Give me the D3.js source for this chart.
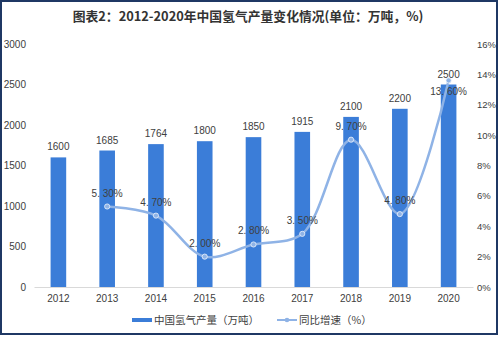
<!DOCTYPE html>
<html>
<head>
<meta charset="utf-8">
<script src="https://cdn.jsdelivr.net/npm/d3@7"></script>
<style>
  html, body { margin: 0; padding: 0; background: #fff; }
  svg { display: block; font-family: "Noto Sans CJK SC", "Liberation Sans", sans-serif; }
</style>
</head>
<body>
<svg id="chart" width="499" height="337"></svg>
<script>
const years = ["2012", "2013", "2014", "2015", "2016", "2017", "2018", "2019", "2020"];
const output = [1600, 1685, 1764, 1800, 1850, 1915, 2100, 2200, 2500];
const growthYears = ["2013", "2014", "2015", "2016", "2017", "2018", "2019", "2020"];
const growth = [5.3, 4.7, 2.0, 2.8, 3.5, 9.7, 4.8, 13.6];
const leftTicks = [0, 500, 1000, 1500, 2000, 2500, 3000];
const rightTicks = [0, 2, 4, 6, 8, 10, 12, 14, 16];

const title = "图表2：2012-2020年中国氢气产量变化情况(单位：万吨，%)";
const barName = "中国氢气产量（万吨）";
const lineName = "同比增速（%）";

const barColor = "#3b7dd8";
const lineColor = "#8fb3e6";
const textColor = "#404040";

const svg = d3.select("#chart");

// outer frame
svg.append("rect")
  .attr("x", 1).attr("y", 1).attr("width", 496).attr("height", 333)
  .attr("fill", "none").attr("stroke", "#1f3864").attr("stroke-width", 2);

svg.append("text")
  .attr("x", 248).attr("y", 21)
  .attr("text-anchor", "middle")
  .attr("font-size", 12.8).attr("font-weight", "bold")
  .attr("fill", "#333")
  .text(title);

const x = d3.scaleBand().domain(years).range([34, 473]).paddingInner(0.68).paddingOuter(0.34);
const yL = d3.scaleLinear().domain([0, 3000]).range([287, 44]);
const yR = d3.scaleLinear().domain([0, 16]).range([287, 44]);
const cx = d => x(d) + x.bandwidth() / 2;

// left axis labels
svg.append("g")
  .attr("transform", "translate(26,0)")
  .call(d3.axisLeft(yL).tickValues(leftTicks).tickSize(0).tickPadding(0).tickFormat(d3.format("d")))
  .call(g => g.select(".domain").remove())
  .call(g => g.selectAll("text").attr("fill", textColor).attr("font-size", 10).attr("font-family", "Liberation Sans, sans-serif"));

// right axis labels
svg.append("g")
  .attr("transform", "translate(477,0)")
  .call(d3.axisRight(yR).tickValues(rightTicks).tickSize(0).tickPadding(0).tickFormat(d => d + "%"))
  .call(g => g.select(".domain").remove())
  .call(g => g.selectAll("text").attr("fill", textColor).attr("font-size", 9.5).attr("font-family", "Liberation Sans, sans-serif"));

// x axis
svg.append("g")
  .attr("transform", "translate(0,287)")
  .call(d3.axisBottom(x).tickSize(0).tickPadding(8))
  .call(g => g.select(".domain").attr("stroke", "#d9d9d9"))
  .call(g => g.selectAll("text").attr("fill", textColor).attr("font-size", 10).attr("font-family", "Liberation Sans, sans-serif"));

// bars
svg.append("g").selectAll("rect")
  .data(years)
  .join("rect")
  .attr("x", d => x(d))
  .attr("width", x.bandwidth())
  .attr("y", (d, i) => yL(output[i]))
  .attr("height", (d, i) => yL(0) - yL(output[i]))
  .attr("fill", barColor);

svg.append("g").selectAll("text")
  .data(years)
  .join("text")
  .attr("x", d => cx(d))
  .attr("y", (d, i) => yL(output[i]) - 7)
  .attr("text-anchor", "middle")
  .attr("font-size", 10).attr("font-family", "Liberation Sans, sans-serif")
  .attr("fill", textColor)
  .text((d, i) => output[i]);

// growth line
const pts = growthYears.map((d, i) => [cx(d), yR(growth[i])]);
svg.append("path")
  .attr("d", d3.line().curve(d3.curveCatmullRom.alpha(0.5))(pts))
  .attr("fill", "none").attr("stroke", lineColor).attr("stroke-width", 2.5);

svg.append("g").selectAll("circle")
  .data(pts)
  .join("circle")
  .attr("cx", d => d[0]).attr("cy", d => d[1]).attr("r", 2.6)
  .attr("fill", lineColor).attr("stroke", "#eef4fc").attr("stroke-width", 0.8);

const pctFmt = v => v.toFixed(2).replace(".", ". ") + "%";
svg.append("g").selectAll("text")
  .data(growthYears)
  .join("text")
  .attr("x", d => cx(d))
  .attr("y", (d, i) => i === growth.length - 1 ? yR(growth[i]) + 15 : yR(growth[i]) - 10)
  .attr("text-anchor", "middle")
  .attr("font-size", 10).attr("font-family", "Liberation Sans, sans-serif")
  .attr("fill", textColor)
  .text((d, i) => pctFmt(growth[i]));

// legend
const lg = svg.append("g");
lg.append("rect").attr("x", 132).attr("y", 318).attr("width", 20).attr("height", 4).attr("fill", barColor);
lg.append("text").attr("x", 154).attr("y", 324).attr("font-size", 10.5).attr("fill", textColor).text(barName);
lg.append("line").attr("x1", 277).attr("x2", 297).attr("y1", 320).attr("y2", 320)
  .attr("stroke", lineColor).attr("stroke-width", 2);
lg.append("circle").attr("cx", 287).attr("cy", 320).attr("r", 2.3).attr("fill", lineColor);
lg.append("text").attr("x", 299).attr("y", 324).attr("font-size", 10.5).attr("fill", textColor).text(lineName);
</script>
</body>
</html>
